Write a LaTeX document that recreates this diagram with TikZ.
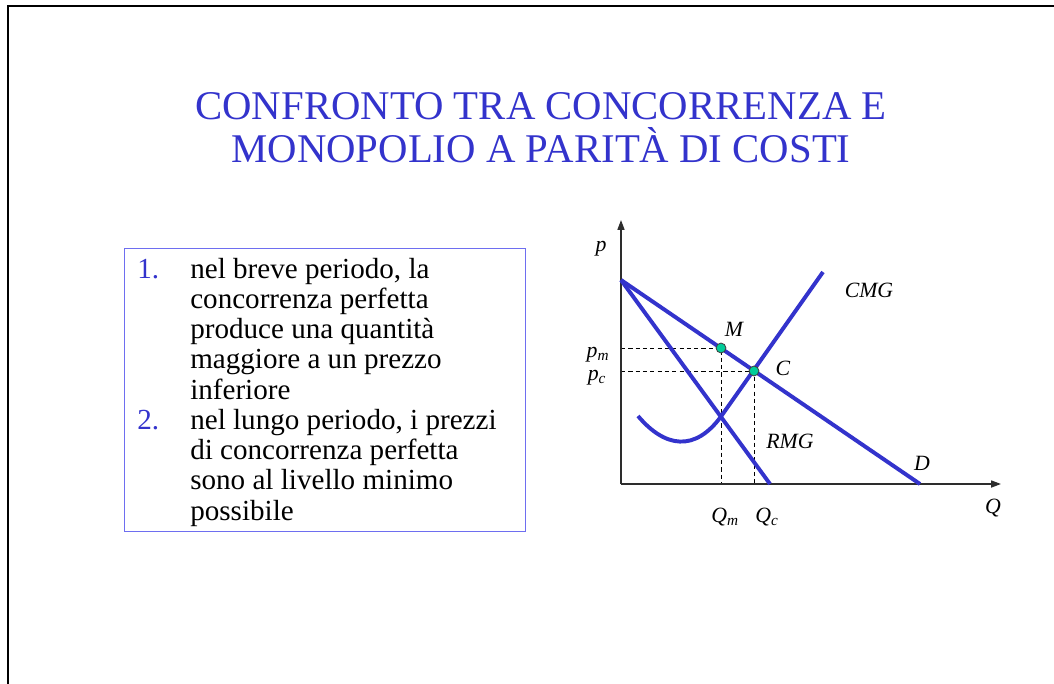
\documentclass[tikz,border=0pt]{standalone}
\usepackage{fontspec}
\setmainfont{Liberation Serif}
\usepackage{tikz}
\usetikzlibrary{arrows.meta}
\definecolor{bluTitolo}{RGB}{51, 51, 204}
\definecolor{bluCornice}{RGB}{110, 110, 240}
\definecolor{verdePunto}{RGB}{0, 204, 153}
\definecolor{grigioAsse}{RGB}{45, 45, 45}

\begin{document}
\begin{tikzpicture}[x=0.025cm, y=-0.025cm,
  titolo/.style={font=\fontsize{29}{30.6}\selectfont, text=bluTitolo,
    align=center, inner sep=0pt, anchor=north},
  voce/.style={font=\fontsize{20.7}{21.5}\selectfont, align=left,
    inner sep=0pt, anchor=base west},
  num/.style={voce, text=bluTitolo},
  asse/.style={-{Triangle[length=7pt, width=5pt]}, draw=grigioAsse,
    line width=1pt},
  curva/.style={draw=bluTitolo, line width=2.8pt},
  guida/.style={draw=black, line width=0.6pt, dash pattern=on 3pt off 2.2pt},
  punto/.style={circle, draw=black!75, fill=verdePunto, inner sep=0pt,
    minimum size=7pt, line width=0.6pt},
  etich/.style={font=\fontsize{15.5}{18}\selectfont\itshape, inner sep=0pt,
    anchor=base},
]
\useasboundingbox (0,0) rectangle (1054,684);
\draw[line width=1.4pt] (8,684) -- (8,6) -- (1054,6);

% titolo
\node[titolo] (titolo) at (541,92)
  {CONFRONTO TRA CONCORRENZA E\\MONOPOLIO A PARITÀ DI COSTI};

% riquadro con l'elenco (base = ultima riga)
\draw[draw=bluCornice, line width=0.7pt] (124,248) rectangle (525,531);
\node[num]  (n1) at (137,278) {1.};
\node[voce] (v1) at (190,399)
  {nel breve periodo, la\\concorrenza perfetta\\produce una quantità\\
   maggiore a un prezzo\\inferiore};
\node[num]  (n2) at (137,429) {2.};
\node[voce] (v2) at (190,520)
  {nel lungo periodo, i prezzi\\di concorrenza perfetta\\
   sono al livello minimo\\possibile};

% grafico
\coordinate (O)    at (621,484);
\coordinate (yfin) at (621,220);
\coordinate (xfin) at (1001,484);
\coordinate (A)    at (621,280);
\coordinate (Dq)   at (920,484);
\coordinate (Rq)   at (770,484);
\coordinate (m)    at (721,348);
\coordinate (c)    at (754,371);
\coordinate (cmgA) at (638,416);
\coordinate (cmgQ) at (721,416.5);
\coordinate (cmgB) at (823,272);

\draw[guida] (O |- m) -- (m) -- (m |- O);
\draw[guida] (O |- c) -- (c) -- (c |- O);

\draw[asse] (O) -- (yfin);
\draw[asse] (O) -- (xfin);

\draw[curva] (A) -- (Dq);
\draw[curva] (A) -- (Rq);
\draw[curva] (cmgA) .. controls (665,448) and (695,452) .. (cmgQ)
  -- (cmgB);

\node[punto] (puntoM) at (m) {};
\node[punto] (puntoC) at (c) {};

\node[etich] (lp)   at (601,251.5) {p};
\node[etich] (lpm)  at (598,357) {p\textsubscript{m}};
\node[etich] (lpc)  at (597,380) {p\textsubscript{c}};
\node[etich] (lM)   at (734,336.5) {M};
\node[etich] (lC)   at (783,375.5) {C};
\node[etich] (lCMG) at (869,297) {CMG};
\node[etich] (lRMG) at (790,448) {RMG};
\node[etich] (lD)   at (922,470.5) {D};
\node[etich] (lQm)  at (725,522) {Q\textsubscript{m}};
\node[etich] (lQc)  at (767,522) {Q\textsubscript{c}};
\node[etich] (lQ)   at (993,513) {Q};
\end{tikzpicture}
\end{document}
